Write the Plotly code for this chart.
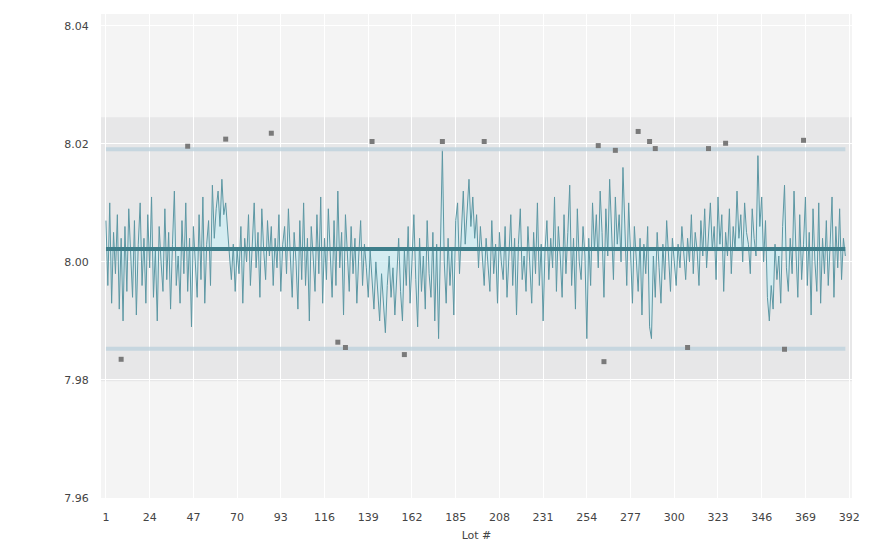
import plotly.graph_objects as go

lots = list(range(1, 391))
measurements = [
    8.007, 7.996, 8.010, 7.993, 8.005, 7.998, 8.008, 7.992, 8.004, 7.990,
    8.006, 7.995, 8.009, 8.001, 7.994, 8.007, 7.991, 8.003, 8.010, 7.996,
    8.004, 7.993, 8.008, 7.999, 8.011, 7.994, 8.002, 7.990, 8.006, 8.000,
    7.995, 8.009, 7.997, 8.005, 7.992, 8.003, 8.012, 7.996, 8.001, 7.993,
    8.007, 7.998, 8.010, 7.995, 8.004, 7.989, 8.006, 8.000, 7.994, 8.008,
    7.997, 8.011, 7.993, 8.003, 8.007, 7.996, 8.013, 8.004, 8.009, 8.012,
    8.006, 8.014, 8.008, 8.010, 8.005, 8.001, 7.997, 8.003, 7.995, 8.002,
    7.998, 8.006, 7.993, 8.004, 8.000, 8.008, 7.996, 8.003, 8.010, 7.999,
    8.005, 7.994, 8.009, 8.002, 7.997, 8.007, 8.001, 8.006, 7.996, 8.004,
    7.999, 8.008, 7.995, 8.003, 8.006, 7.998, 8.009, 8.001, 7.994, 8.005,
    8.000, 7.992, 8.007, 7.997, 8.010, 7.996, 8.004, 7.990, 8.006, 8.001,
    7.995, 8.008, 7.998, 8.011, 7.993, 8.004, 7.997, 8.009, 8.000, 7.994,
    8.007, 7.996, 8.012, 7.999, 8.005, 7.991, 8.008, 8.002, 7.995, 8.006,
    7.998, 8.004, 7.993, 8.001, 8.007, 7.996, 8.003, 7.999, 7.994, 8.002,
    7.997, 7.992, 8.000, 7.995, 7.990, 7.998, 7.993, 7.988, 7.996, 8.001,
    7.994, 7.999, 7.991, 7.997, 8.004, 7.995, 7.990, 8.002, 7.996, 8.006,
    7.993, 8.000, 8.008, 7.997, 7.989, 8.004, 7.995, 8.001, 7.992, 8.007,
    7.998, 7.994, 8.005, 7.990, 8.003, 7.987, 8.006, 8.019, 8.000, 7.993,
    8.004, 7.996, 8.002, 7.991, 8.007, 8.010, 7.998, 8.005, 8.012, 8.003,
    8.009, 8.014, 8.006, 8.011, 8.004, 8.008, 7.999, 8.006, 8.001, 7.996,
    8.004, 8.000, 7.995, 8.007, 7.998, 8.003, 7.993, 8.005, 8.000, 7.997,
    8.006, 7.994, 8.002, 8.008, 7.996, 8.004, 7.991, 8.003, 8.009, 7.997,
    8.001, 7.995, 8.006, 8.000, 7.993, 8.005, 7.998, 8.010, 7.996, 8.003,
    7.990, 8.002, 8.007, 7.997, 8.004, 7.999, 8.011, 7.995, 8.006, 8.001,
    7.994, 8.008, 7.998, 8.005, 8.013, 7.996, 8.004, 7.992, 8.009, 8.000,
    7.997, 8.006, 8.001, 7.987, 8.004, 7.996, 8.010, 8.002, 8.008, 7.999,
    8.012, 8.005, 7.994, 8.009, 8.001, 8.014, 8.006, 7.997, 8.011, 8.003,
    8.008, 8.000, 8.016, 8.007, 7.996, 8.010, 8.002, 7.993, 8.006, 8.000,
    7.995, 8.004, 7.991, 8.003, 7.998, 8.006, 7.989, 7.987, 8.001, 7.994,
    8.005, 7.999, 7.993, 8.003, 7.997, 8.007, 8.001, 7.995, 8.004, 8.000,
    7.996, 8.003, 7.999, 8.006, 8.001, 7.997, 8.004, 8.000, 8.008, 7.998,
    8.005, 8.002, 7.996, 8.007, 8.001, 8.009, 7.999, 8.004, 8.010, 8.002,
    8.006, 7.997, 8.011, 8.003, 8.008, 7.995, 8.005, 8.001, 8.009, 7.998,
    8.006, 8.002, 8.012, 8.004, 8.008, 8.000, 8.010, 8.005, 8.003, 7.998,
    8.009, 8.004, 8.001, 8.018, 8.006, 8.011, 8.000, 8.007, 7.994, 7.990,
    7.996, 7.992, 8.003, 7.997, 8.001, 7.993, 8.006, 8.013, 7.999, 7.995,
    8.004, 7.998, 8.012, 8.002, 7.994, 8.008, 7.997, 8.003, 8.011, 7.996,
    8.005, 7.991, 8.009, 8.000, 7.995, 8.010, 7.993, 8.004, 7.998, 8.007,
    7.996, 8.003, 8.011, 7.994, 8.006, 7.999, 8.009, 7.997, 8.004, 8.001,
]

center_value = 8.0022
ucl_value = 8.0191
lcl_value = 7.9853
band_upper = 8.0245
band_lower = 7.9798

flag_lots = [44, 64, 88, 141, 178, 200, 260, 269, 281, 287, 290, 318, 327, 368,
             9, 123, 127, 158, 263, 307, 358]
flag_values = [8.0196, 8.0208, 8.0218, 8.0204, 8.0204, 8.0204, 8.0197, 8.0189,
               8.0221, 8.0204, 8.0192, 8.0192, 8.0201, 8.0206,
               7.9835, 7.9864, 7.9855, 7.9843, 7.9831, 7.9855, 7.9852]

x_ticks = list(range(1, 393, 23))
y_ticks = [7.96, 7.98, 8.00, 8.02, 8.04]

fig = go.Figure()

fig.add_trace(go.Scatter(x=lots, y=[center_value] * len(lots), mode="lines",
                         line=dict(width=0, color="rgba(0,0,0,0)"),
                         hoverinfo="skip", showlegend=False))
fig.add_trace(go.Scatter(x=lots, y=measurements, mode="lines",
                         line=dict(color="#5d97a3", width=1),
                         fill="tonexty", fillcolor="rgba(205,238,244,0.75)",
                         showlegend=False))
fig.add_trace(go.Scatter(x=[lots[0], lots[-1]], y=[ucl_value, ucl_value], mode="lines",
                         line=dict(color="rgba(190,210,220,0.8)", width=4),
                         showlegend=False))
fig.add_trace(go.Scatter(x=[lots[0], lots[-1]], y=[lcl_value, lcl_value], mode="lines",
                         line=dict(color="rgba(190,210,220,0.8)", width=4),
                         showlegend=False))
fig.add_trace(go.Scatter(x=[lots[0], lots[-1]], y=[center_value, center_value], mode="lines",
                         line=dict(color="#3f7e8a", width=4),
                         showlegend=False))
fig.add_trace(go.Scatter(x=flag_lots, y=flag_values, mode="markers",
                         marker=dict(color="#7a7a7a", size=5, symbol="square"),
                         showlegend=False))

fig.add_shape(type="rect", xref="paper", x0=0, x1=1, yref="y",
              y0=band_lower, y1=band_upper, fillcolor="#e7e7e8",
              line=dict(width=0), layer="below")

fig.update_layout(
    width=875, height=556,
    margin=dict(l=93, r=31, t=6, b=66),
    paper_bgcolor="white",
    plot_bgcolor="#f4f4f4",
    font=dict(family="DejaVu Sans", size=11, color="#444"),
    xaxis=dict(title=dict(text="Lot #", font=dict(size=11), standoff=8),
               range=[-1.6, 393.5], tickvals=x_ticks,
               showgrid=True, gridcolor="white", gridwidth=1,
               zeroline=False, showline=False,
               ticks="outside", ticklen=9, tickcolor="rgba(0,0,0,0)"),
    yaxis=dict(range=[7.96, 8.042], tickvals=y_ticks,
               tickformat=".2f",
               showgrid=True, gridcolor="white", gridwidth=1,
               zeroline=False, showline=False,
               ticks="outside", ticklen=9, tickcolor="rgba(0,0,0,0)"),
)

fig.write_html("out.html")
